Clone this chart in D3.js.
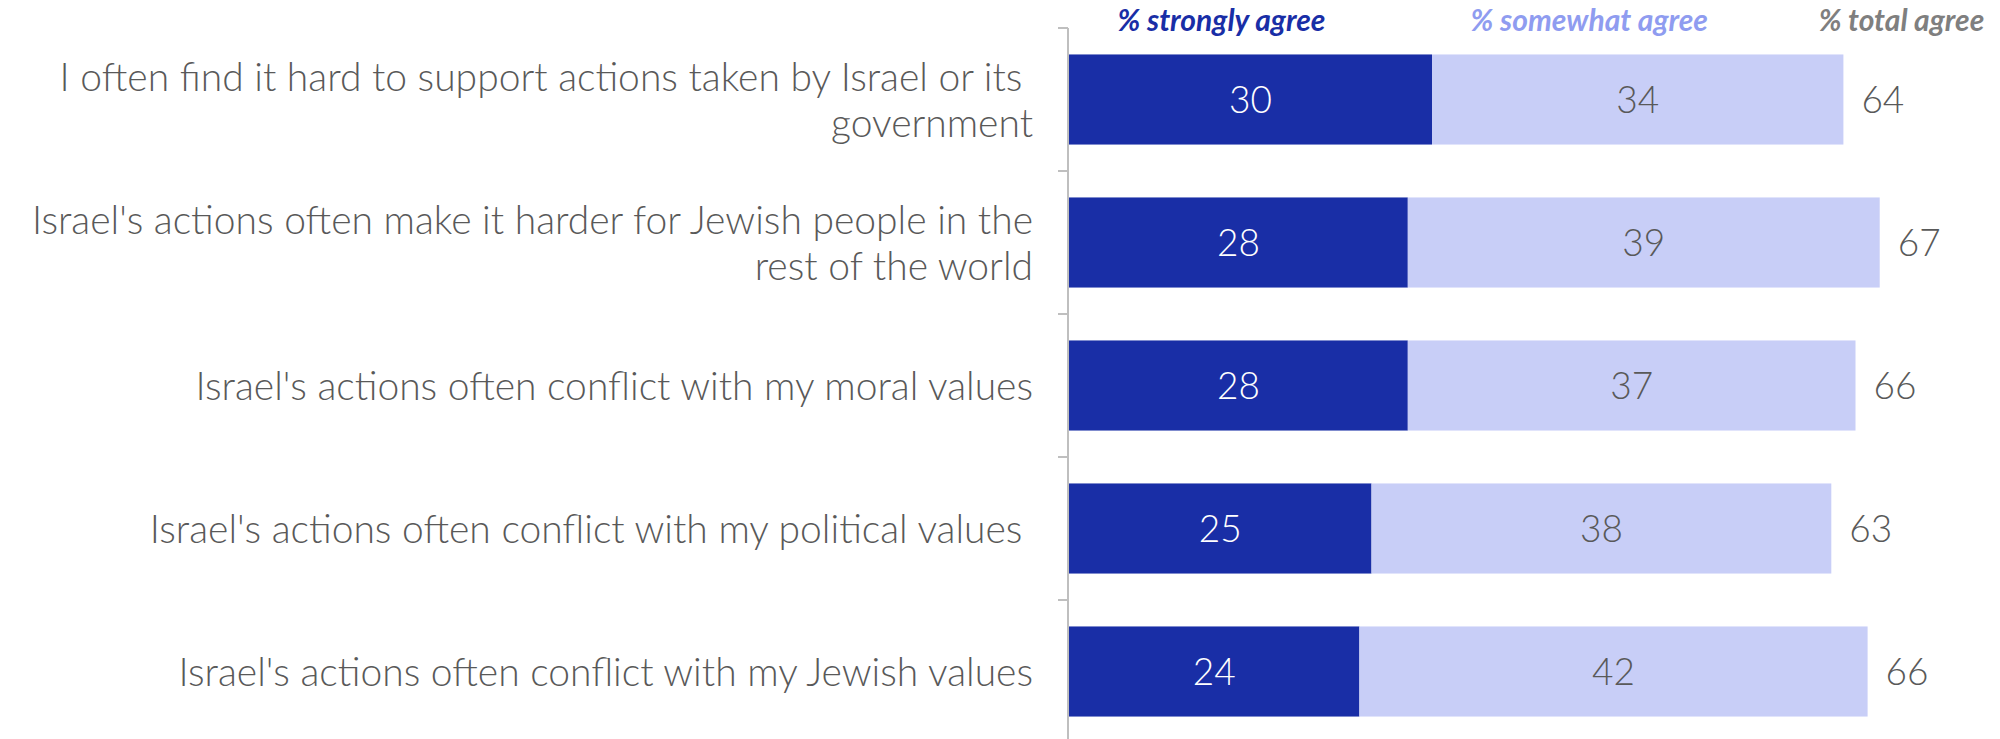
<!DOCTYPE html>
<html>
<head>
<meta charset="utf-8">
<script src="https://cdn.jsdelivr.net/npm/d3@7"></script>
<style>
  html, body { margin: 0; padding: 0; background: #fff; }
  svg { display: block; font-family: Lato, "Open Sans", sans-serif; }
</style>
</head>
<body>
<div id="chart"></div>
<script>
// Datos
const categories = [
  "I often find it hard to support actions taken by Israel or its \ngovernment",
  "Israel's actions often make it harder for Jewish people in the\nrest of the world",
  "Israel's actions often conflict with my moral values",
  "Israel's actions often conflict with my political values ",
  "Israel's actions often conflict with my Jewish values"
];
const stronglyAgree = [30, 28, 28, 25, 24];
const somewhatAgree = [34, 39, 37, 38, 42];
const totalAgree = [64, 67, 66, 63, 66];
const seriesNames = ["% strongly agree", "% somewhat agree", "% total agree"];

// Dimensiones
const width = 2000;
const height = 739;
const axisX = 1068;
const labelRight = 1033;

const svg = d3.create("svg")
  .attr("width", width)
  .attr("height", height)
  .attr("viewBox", [0, 0, width, height]);

d3.select("#chart").append(() => svg.node());

const x = d3.scaleLinear()
  .domain([0, 70])
  .range([axisX + 1, axisX + 1 + 847]);

const y = d3.scaleBand()
  .domain(categories)
  .range([28, 743])
  .paddingInner(0.37)
  .paddingOuter(0.185);

const rows = categories.map((c, i) => ({
  cat: c, strong: stronglyAgree[i], some: somewhatAgree[i], total: totalAgree[i]
}));

// Barras "strongly"
svg.append("g").selectAll("rect")
  .data(rows)
  .join("rect")
  .attr("x", x(0))
  .attr("y", d => y(d.cat))
  .attr("width", d => x(d.strong) - x(0))
  .attr("height", y.bandwidth())
  .attr("fill", "#192ea6");

// Barras "somewhat"
svg.append("g").selectAll("rect")
  .data(rows)
  .join("rect")
  .attr("x", d => x(d.strong))
  .attr("y", d => y(d.cat))
  .attr("width", d => x(d.strong + d.some) - x(d.strong))
  .attr("height", y.bandwidth())
  .attr("fill", "#c8cef7");

// Etiquetas de valores
const mid = d => y(d.cat) + y.bandwidth() / 2;

svg.append("g").selectAll("text")
  .data(rows)
  .join("text")
  .attr("x", d => x(d.strong / 2))
  .attr("y", mid)
  .attr("dy", "0.36em")
  .attr("text-anchor", "middle")
  .attr("fill", "#fff")
  .attr("font-size", 37)
  .attr("font-weight", 300)
  .text(d => d.strong);

svg.append("g").selectAll("text")
  .data(rows)
  .join("text")
  .attr("x", d => x(d.strong + d.some / 2))
  .attr("y", mid)
  .attr("dy", "0.36em")
  .attr("text-anchor", "middle")
  .attr("fill", "#595959")
  .attr("font-size", 37)
  .attr("font-weight", 300)
  .text(d => d.some);

svg.append("g").selectAll("text")
  .data(rows)
  .join("text")
  .attr("x", d => x(d.strong + d.some) + 18)
  .attr("y", mid)
  .attr("dy", "0.36em")
  .attr("fill", "#595959")
  .attr("font-size", 37)
  .attr("font-weight", 300)
  .text(d => d.total);

// Eje Y
svg.append("line")
  .attr("x1", axisX).attr("x2", axisX)
  .attr("y1", 28).attr("y2", height)
  .attr("stroke", "#bfbfbf")
  .attr("stroke-width", 2);

svg.append("g").selectAll("line")
  .data(d3.range(categories.length + 1))
  .join("line")
  .attr("x1", axisX - 10).attr("x2", axisX)
  .attr("y1", i => y.range()[0] + i * y.step())
  .attr("y2", i => y.range()[0] + i * y.step())
  .attr("stroke", "#bfbfbf")
  .attr("stroke-width", 2);

// Nombres de categorías
svg.append("g").selectAll("text")
  .data(rows)
  .join("text")
  .attr("text-anchor", "end")
  .attr("fill", "#595959")
  .attr("font-size", 39)
  .attr("font-weight", 300)
  .style("white-space", "pre")
  .each(function (d) {
    const lines = d.cat.split("\n");
    const lh = 46;
    const t = d3.select(this);
    lines.forEach((ln, k) => {
      t.append("tspan")
        .attr("x", labelRight)
        .attr("y", mid(d) + (k - (lines.length - 1) / 2) * lh)
        .attr("dy", "0.36em")
        .text(ln);
    });
  });

// Encabezados
const headerX = [12.6, 43, 68.8];
const headerColor = ["#192ea6", "#8f9cf0", "#7f7f7f"];
svg.append("g").selectAll("text")
  .data(seriesNames)
  .join("text")
  .attr("x", (d, i) => x(headerX[i]))
  .attr("y", 31)
  .attr("text-anchor", "middle")
  .attr("font-size", 30)
  .attr("font-weight", "bold")
  .attr("font-style", "italic")
  .attr("fill", (d, i) => headerColor[i])
  .text(d => d);
</script>
</body>
</html>
